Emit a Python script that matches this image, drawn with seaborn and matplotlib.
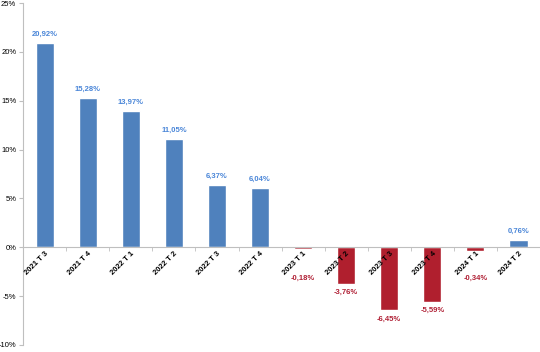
import numpy as np
import pandas as pd
import matplotlib
matplotlib.use("Agg")
import matplotlib.pyplot as plt
from matplotlib.ticker import FixedLocator, FuncFormatter
import seaborn as sns

trimestres = ["2021 T 3", "2021 T 4", "2022 T 1", "2022 T 2", "2022 T 3", "2022 T 4",
              "2023 T 1", "2023 T 2", "2023 T 3", "2023 T 4", "2024 T 1", "2024 T 2"]
variacao = [20.92, 15.28, 13.97, 11.05, 6.37, 6.04,
            -0.18, -3.76, -6.45, -5.59, -0.34, 0.76]

azul = "#4F81BD"
vermelho = "#B01F2E"
azul_txt = "#4A86D8"
verm_txt = "#B02035"

df = pd.DataFrame({"trimestre": trimestres, "var": variacao})
df["sinal"] = np.where(df["var"] >= 0, "pos", "neg")

sns.set_style("white")
plt.rcParams["font.family"] = ["Liberation Sans", "DejaVu Sans"]

fig = plt.figure(figsize=(5.4, 3.52), dpi=100)
ax = fig.add_axes([0.043, 0.02, 0.957, 0.971])

sns.barplot(data=df, x="trimestre", y="var", hue="sinal",
            palette={"pos": azul, "neg": vermelho}, width=0.42,
            dodge=False, legend=False, ax=ax, saturation=1)
ax.set_axisbelow(False)

ax.set_ylim(-10, 25)
ax.set_xlim(-0.5, len(trimestres) - 0.5)
ax.set_yticks(np.arange(-10, 26, 5))
ax.yaxis.set_major_formatter(FuncFormatter(lambda v, p: f"{v:.0f}%"))
ax.set_xlabel("")
ax.set_ylabel("")

for s in ["top", "right"]:
    ax.spines[s].set_visible(False)
ax.spines["left"].set_color("#BFBFBF")
ax.spines["left"].set_linewidth(0.8)
ax.spines["bottom"].set_position(("data", 0))
ax.spines["bottom"].set_color("#BFBFBF")
ax.spines["bottom"].set_linewidth(0.8)

ax.tick_params(axis="y", labelsize=5.5, length=3, color="#BFBFBF", pad=2,
               left=True, labelcolor="black")
ax.tick_params(axis="x", which="major", length=0, labelsize=5.5, pad=2,
               labelcolor="black")
ax.xaxis.set_minor_locator(FixedLocator(np.arange(-0.5, len(trimestres), 1)))
ax.tick_params(axis="x", which="minor", length=3, color="#BFBFBF", bottom=True)
for lab in ax.get_xticklabels():
    lab.set_rotation(45)
    lab.set_ha("right")
    lab.set_rotation_mode("anchor")
    lab.set_fontweight("bold")

for i, v in enumerate(variacao):
    txt = f"{v:.2f}%".replace(".", ",")
    if v >= 0:
        ax.text(i, v + 0.9, txt, ha="center", va="center", fontsize=5.5,
                color=azul_txt, fontweight="bold")
    else:
        ax.text(i, min(v - 0.9, -3.2), txt, ha="center", va="center",
                fontsize=5.5, color=verm_txt, fontweight="bold")

fig.savefig("out.png", dpi=100)
